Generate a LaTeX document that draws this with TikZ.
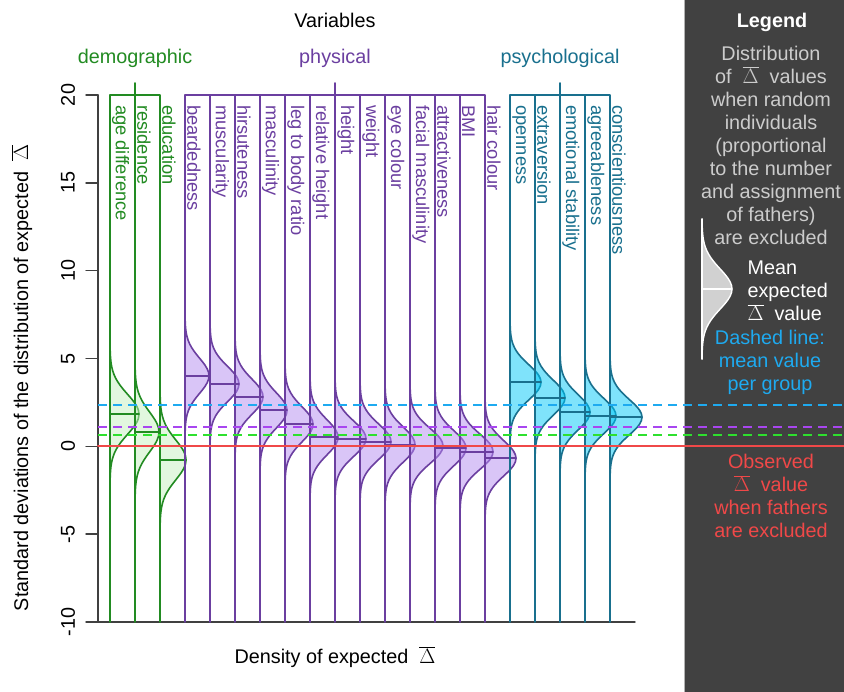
\documentclass[tikz,border=0pt]{standalone}
\usepackage{fontspec}
\setmainfont{Liberation Sans}
\definecolor{grn}{HTML}{228B22}
\definecolor{grnfill}{HTML}{C7F1C1}
\definecolor{prp}{HTML}{6B3FA0}
\definecolor{prpfill}{HTML}{B48CF0}
\definecolor{psy}{HTML}{19708E}
\definecolor{psyfill}{HTML}{00C8F8}
\definecolor{dblue}{HTML}{1EAAF0}
\definecolor{dprp}{HTML}{A846F0}
\definecolor{dgrn}{HTML}{2EE02E}
\definecolor{obsred}{HTML}{F04848}
\definecolor{axgrey}{HTML}{404040}
\definecolor{panel}{HTML}{414141}
\definecolor{legtext}{HTML}{CCCCCC}

\begin{document}
\begin{tikzpicture}[line cap=round,line join=round,x=1pt,y=-1pt,
  lab/.style={font=\fontsize{18.3}{22}\selectfont,rotate=-90,anchor=south west,inner sep=1pt},
  ttl/.style={font=\fontsize{19.8}{23}\selectfont},
  dens/.style={domain=4:-4,samples=41,variable=\t,smooth},
  demo/.style={line width=1.6pt,color=grn,fill=grnfill,fill opacity=0.5},
  phys/.style={line width=1.6pt,color=prp,fill=prpfill,fill opacity=0.5},
  psych/.style={line width=1.6pt,color=psy,fill=psyfill,fill opacity=0.5}]
\useasboundingbox (0,0) rectangle (844,692);
\fill[color=panel] (684,0) rectangle (844,692);
\draw[line width=0.8pt,color=gray!60] (684,0) -- (684,692);
\fill[white] (0,0) rectangle (683.6,692);

\filldraw[demo] plot[dens] ({110+29*exp(-0.5*(\t)^2)},{414.3-20*\t}) -- cycle;
\filldraw[demo] plot[dens] ({135+24*exp(-0.5*(\t)^2)},{432.0-20*\t}) -- cycle;
\filldraw[demo] plot[dens] ({160+26*exp(-0.5*(\t)^2)},{459.9-20*\t}) -- cycle;
\filldraw[phys] plot[dens] ({185+24*exp(-0.5*(\t)^2)},{375.8-17.6*\t}) -- cycle;
\filldraw[phys] plot[dens] ({210+29*exp(-0.5*(\t)^2)},{384.0-17.6*\t}) -- cycle;
\filldraw[phys] plot[dens] ({235+28*exp(-0.5*(\t)^2)},{396.7-17.6*\t}) -- cycle;
\filldraw[phys] plot[dens] ({260+27*exp(-0.5*(\t)^2)},{410.4-17.6*\t}) -- cycle;
\filldraw[phys] plot[dens] ({285+28*exp(-0.5*(\t)^2)},{424.3-17.6*\t}) -- cycle;
\filldraw[phys] plot[dens] ({310+28*exp(-0.5*(\t)^2)},{437.3-17.6*\t}) -- cycle;
\filldraw[phys] plot[dens] ({335+31*exp(-0.5*(\t)^2)},{438.7-17.6*\t}) -- cycle;
\filldraw[phys] plot[dens] ({360+31*exp(-0.5*(\t)^2)},{441.7-17.6*\t}) -- cycle;
\filldraw[phys] plot[dens] ({385+30*exp(-0.5*(\t)^2)},{444.6-17.6*\t}) -- cycle;
\filldraw[phys] plot[dens] ({410+33*exp(-0.5*(\t)^2)},{445.9-17.6*\t}) -- cycle;
\filldraw[phys] plot[dens] ({435+31*exp(-0.5*(\t)^2)},{448.2-17.6*\t}) -- cycle;
\filldraw[phys] plot[dens] ({460+33*exp(-0.5*(\t)^2)},{451.7-17.6*\t}) -- cycle;
\filldraw[phys] plot[dens] ({485+31*exp(-0.5*(\t)^2)},{458.3-17.6*\t}) -- cycle;
\filldraw[psych] plot[dens] ({510+31*exp(-0.5*(\t)^2)},{382.3-17.6*\t}) -- cycle;
\filldraw[psych] plot[dens] ({535+30*exp(-0.5*(\t)^2)},{397.7-17.6*\t}) -- cycle;
\filldraw[psych] plot[dens] ({560+30*exp(-0.5*(\t)^2)},{412.3-17.6*\t}) -- cycle;
\filldraw[psych] plot[dens] ({585+31*exp(-0.5*(\t)^2)},{416.0-17.6*\t}) -- cycle;
\filldraw[psych] plot[dens] ({610+32*exp(-0.5*(\t)^2)},{417.2-17.6*\t}) -- cycle;

\draw[line width=1.8pt,color=grn] (110,414.3) -- (139,414.3) (135,432.0) -- (159,432.0) (160,459.9) -- (186,459.9);
\draw[line width=1.8pt,color=prp] (185,375.8) -- (209,375.8) (210,384.0) -- (239,384.0) (235,396.7) -- (263,396.7) (260,410.4) -- (287,410.4) (285,424.3) -- (313,424.3) (310,437.3) -- (338,437.3) (335,438.7) -- (366,438.7) (360,441.7) -- (391,441.7) (385,444.6) -- (415,444.6) (410,445.9) -- (443,445.9) (435,448.2) -- (466,448.2) (460,451.7) -- (493,451.7) (485,458.3) -- (516,458.3);
\draw[line width=1.8pt,color=psy] (510,382.3) -- (541,382.3) (535,397.7) -- (565,397.7) (560,412.3) -- (590,412.3) (585,416.0) -- (616,416.0) (610,417.2) -- (642,417.2);

\draw[line width=1.4pt,color=axgrey] (98,95) -- (98,622) (86,622) -- (635,622);
\draw[line width=1.4pt,color=axgrey] (86,95) -- (98,95) (86,182.9) -- (98,182.9) (86,270.7) -- (98,270.7) (86,358.6) -- (98,358.6) (86,446.4) -- (98,446.4) (86,534.2) -- (98,534.2);

\draw[line width=1.7pt,color=grn] (135,83) -- (135,622) (110,622) -- (110,95) -- (160,95) -- (160,622);
\draw[line width=1.7pt,color=prp] (335,83) -- (335,622) (185,622) -- (185,95) -- (485,95) -- (485,622) (210,95) -- (210,622) (235,95) -- (235,622) (260,95) -- (260,622) (285,95) -- (285,622) (310,95) -- (310,622) (360,95) -- (360,622) (385,95) -- (385,622) (410,95) -- (410,622) (435,95) -- (435,622) (460,95) -- (460,622);
\draw[line width=1.7pt,color=psy] (560,83) -- (560,622) (510,622) -- (510,95) -- (610,95) -- (610,622) (535,95) -- (535,622) (585,95) -- (585,622);

\draw[line width=2pt,color=dblue,line cap=butt,dash pattern=on 9pt off 6pt] (98,404.9) -- (844,404.9);
\draw[line width=2pt,color=dprp,line cap=butt,dash pattern=on 9pt off 6pt] (98,427.3) -- (844,427.3);
\draw[line width=2pt,color=dgrn,line cap=butt,dash pattern=on 9pt off 6pt] (98,435.0) -- (844,435.0);
\draw[line width=2pt,color=obsred] (98,446.4) -- (844,446.4);

\node[ttl] (vartitle) at (335,20) {Variables};
\node[ttl,text=grn] (gdemo) at (135,58) {demographic};
\node[ttl,text=prp] (gphys) at (335,58) {physical};
\node[ttl,text=psy] (gpsych) at (560,58) {psychological};

\node[lab,text=grn] (vage) at (111,104) {age difference};
\node[lab,text=grn] (vres) at (136,104) {residence};
\node[lab,text=grn] (vedu) at (161,104) {education};
\node[lab,text=prp] (vbeard) at (186,104) {beardedness};
\node[lab,text=prp] (vmusc) at (211,104) {muscularity};
\node[lab,text=prp] (vhirs) at (236,104) {hirsuteness};
\node[lab,text=prp] (vmasc) at (261,104) {masculinity};
\node[lab,text=prp] (vleg) at (286,104) {leg to body ratio};
\node[lab,text=prp] (vrelh) at (311,104) {relative height};
\node[lab,text=prp] (vheight) at (336,104) {height};
\node[lab,text=prp] (vweight) at (361,104) {weight};
\node[lab,text=prp] (veye) at (386,104) {eye colour};
\node[lab,text=prp] (vfacial) at (411,104) {facial masculinity};
\node[lab,text=prp] (vattr) at (436,104) {attractiveness};
\node[lab,text=prp] (vbmi) at (461,104) {BMI};
\node[lab,text=prp] (vhair) at (486,104) {hair colour};
\node[lab,text=psy] (vopen) at (511,104) {openness};
\node[lab,text=psy] (vextra) at (536,104) {extraversion};
\node[lab,text=psy] (vemo) at (561,104) {emotional stability};
\node[lab,text=psy] (vagree) at (586,104) {agreeableness};
\node[lab,text=psy] (vcons) at (611,104) {conscientiousness};

\node[ttl,rotate=90] (t20) at (68,95) {20};
\node[ttl,rotate=90] (t15) at (68,182.9) {15};
\node[ttl,rotate=90] (t10) at (68,270.7) {10};
\node[ttl,rotate=90] (t5) at (68,358.6) {5};
\node[ttl,rotate=90] (t0) at (68,446.4) {0};
\node[ttl,rotate=90] (tm5) at (68,534.2) {-5};
\node[ttl,rotate=90] (tm10) at (68,622.1) {-10};

\node[ttl,rotate=90] (ytitle) at (22,378) {Standard deviations of the distribution of expected ~$\overline{\Delta}$};
\node[ttl] (xtitle) at (335,657) {Density of expected ~$\overline{\Delta}$};

\filldraw[line width=1.4pt,color=white,fill=legtext!90!white] plot[domain=3.5:-3.5,samples=41,variable=\t,smooth] ({702+30*exp(-0.5*(\t)^2)},{289-20*\t}) -- cycle;
\draw[line width=1.4pt,color=white] (702,219) -- (702,359) (702,289) -- (732,289);

\node[ttl,text=white,font=\fontsize{19.8}{23}\selectfont\bfseries] (legtitle) at (772,22) {Legend};
\node[ttl,text=legtext,align=center] (legdist) at (771,145) {Distribution\\of ~$\overline{\Delta}$~ values\\when random\\individuals\\(proportional\\to the number\\and assignment\\of fathers)\\are excluded};
\node[ttl,text=white,align=left,anchor=west] (legmean) at (744,291) {Mean\\expected\\$\overline{\Delta}$~ value};
\node[ttl,text=dblue,align=center] (legdash) at (770,362) {Dashed line:\\mean value\\per group};
\node[ttl,text=obsred,align=center] (legobs) at (771,496) {Observed\\$\overline{\Delta}$~ value\\when fathers\\are excluded};
\end{tikzpicture}
\end{document}
